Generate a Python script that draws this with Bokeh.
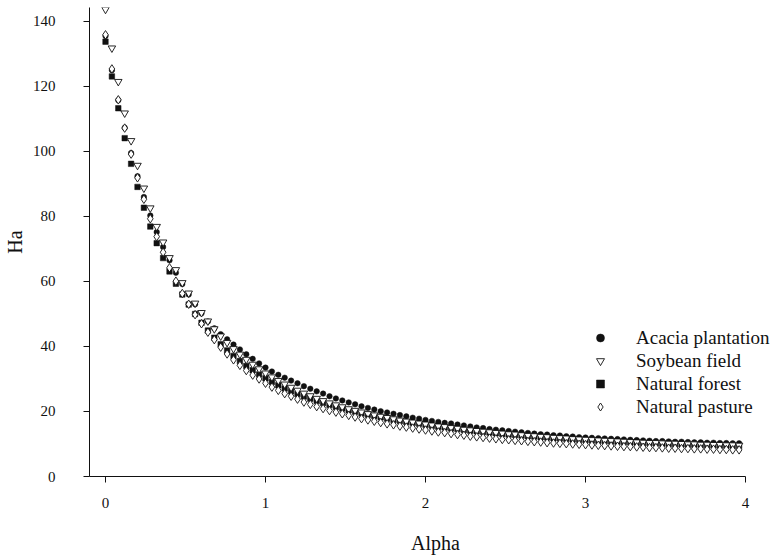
from bokeh.plotting import figure
from bokeh.models import Range1d, Legend, LegendItem, FixedTicker, ColumnDataSource
from bokeh.embed import file_html
from bokeh.resources import INLINE

alpha = [0.00, 0.04, 0.08, 0.12, 0.16, 0.20, 0.24, 0.28, 0.32, 0.36,
         0.40, 0.44, 0.48, 0.52, 0.56, 0.60, 0.64, 0.68, 0.72, 0.76,
         0.80, 0.84, 0.88, 0.92, 0.96, 1.00, 1.04, 1.08, 1.12, 1.16,
         1.20, 1.24, 1.28, 1.32, 1.36, 1.40, 1.44, 1.48, 1.52, 1.56,
         1.60, 1.64, 1.68, 1.72, 1.76, 1.80, 1.84, 1.88, 1.92, 1.96,
         2.00, 2.04, 2.08, 2.12, 2.16, 2.20, 2.24, 2.28, 2.32, 2.36,
         2.40, 2.44, 2.48, 2.52, 2.56, 2.60, 2.64, 2.68, 2.72, 2.76,
         2.80, 2.84, 2.88, 2.92, 2.96, 3.00, 3.04, 3.08, 3.12, 3.16,
         3.20, 3.24, 3.28, 3.32, 3.36, 3.40, 3.44, 3.48, 3.52, 3.56,
         3.60, 3.64, 3.68, 3.72, 3.76, 3.80, 3.84, 3.88, 3.92, 3.96]

acacia = [135.5, 125.0, 115.8, 107.3, 99.5, 92.4, 86.0, 80.3, 75.2, 70.6,
          66.5, 62.7, 59.2, 56.0, 53.0, 50.2, 47.7, 45.6, 43.8, 42.2,
          40.6, 39.1, 37.6, 36.2, 34.8, 33.5, 32.3, 31.3, 30.4, 29.5,
          28.7, 27.8, 27.0, 26.2, 25.5, 24.7, 24.0, 23.4, 22.8, 22.2,
          21.6, 21.1, 20.6, 20.1, 19.7, 19.3, 18.9, 18.5, 18.1, 17.8,
          17.4, 17.1, 16.8, 16.5, 16.3, 16.0, 15.7, 15.4, 15.1, 14.9,
          14.6, 14.4, 14.2, 14.0, 13.8, 13.6, 13.4, 13.2, 13.0, 12.9,
          12.7, 12.6, 12.4, 12.3, 12.1, 12.0, 11.9, 11.8, 11.7, 11.6,
          11.5, 11.4, 11.3, 11.2, 11.1, 11.0, 10.9, 10.9, 10.8, 10.7,
          10.7, 10.6, 10.5, 10.5, 10.4, 10.4, 10.3, 10.3, 10.2, 10.2]

soybean = [143.7, 131.8, 121.5, 111.8, 103.3, 95.7, 88.7, 82.6, 76.9, 72.1,
           67.3, 63.6, 59.6, 56.4, 53.3, 50.4, 47.8, 45.4, 43.2, 41.2,
           39.3, 37.6, 36.0, 34.5, 33.1, 31.8, 30.6, 29.5, 28.4, 27.4,
           26.5, 25.6, 24.8, 24.0, 23.3, 22.6, 22.0, 21.4, 20.8, 20.3,
           19.8, 19.3, 18.9, 18.5, 18.1, 17.7, 17.3, 17.0, 16.7, 16.4,
           16.1, 15.8, 15.5, 15.3, 15.0, 14.8, 14.5, 14.3, 14.1, 13.9,
           13.7, 13.5, 13.3, 13.1, 13.0, 12.8, 12.6, 12.5, 12.3, 12.2,
           12.0, 11.9, 11.8, 11.6, 11.5, 11.4, 11.3, 11.2, 11.1, 11.0,
           10.9, 10.8, 10.7, 10.6, 10.5, 10.4, 10.4, 10.3, 10.2, 10.2,
           10.1, 10.0, 10.0, 9.9, 9.9, 9.8, 9.8, 9.7, 9.7, 9.6]

forest = [133.8, 123.1, 113.3, 104.1, 96.2, 89.1, 82.7, 76.9, 71.8, 67.2,
          63.1, 59.3, 56.0, 52.9, 50.0, 47.3, 44.9, 42.7, 40.7, 38.8,
          37.1, 35.5, 34.0, 32.7, 31.4, 30.2, 29.1, 28.1, 27.1, 26.2,
          25.4, 24.6, 23.9, 23.2, 22.6, 22.0, 21.4, 20.9, 20.4, 19.9,
          19.4, 19.0, 18.6, 18.2, 17.8, 17.4, 17.1, 16.8, 16.5, 16.2,
          15.9, 15.6, 15.3, 15.1, 14.8, 14.6, 14.3, 14.1, 13.9, 13.7,
          13.5, 13.3, 13.1, 12.9, 12.8, 12.6, 12.4, 12.3, 12.1, 12.0,
          11.8, 11.7, 11.6, 11.4, 11.3, 11.2, 11.1, 11.0, 10.9, 10.8,
          10.7, 10.6, 10.5, 10.4, 10.3, 10.3, 10.2, 10.1, 10.0, 10.0,
          9.9, 9.8, 9.8, 9.7, 9.7, 9.6, 9.5, 9.5, 9.4, 9.4]

pasture = [135.9, 125.4, 115.9, 107.2, 99.2, 91.9, 85.3, 79.3, 73.8, 69.0,
           64.2, 60.1, 56.3, 53.0, 49.8, 47.0, 44.4, 42.1, 39.8, 37.7,
           35.9, 34.2, 32.6, 31.2, 30.0, 28.7, 27.5, 26.5, 25.5, 24.7,
           23.8, 22.9, 22.2, 21.5, 20.9, 20.3, 19.8, 19.3, 18.8, 18.3,
           17.8, 17.4, 17.0, 16.6, 16.2, 15.9, 15.5, 15.2, 14.9, 14.6,
           14.3, 14.0, 13.7, 13.5, 13.2, 12.9, 12.7, 12.4, 12.2, 12.0,
           11.8, 11.6, 11.4, 11.3, 11.1, 11.0, 10.8, 10.7, 10.6, 10.4,
           10.3, 10.2, 10.1, 10.0, 9.9, 9.8, 9.7, 9.6, 9.5, 9.4,
           9.3, 9.2, 9.2, 9.1, 9.0, 8.9, 8.9, 8.8, 8.7, 8.7,
           8.6, 8.6, 8.5, 8.5, 8.4, 8.4, 8.3, 8.3, 8.2, 8.2]

series_names = ["Acacia plantation", "Soybean field", "Natural forest", "Natural pasture"]
x_ticks = [0, 1, 2, 3, 4]
y_ticks = [0, 20, 40, 60, 80, 100, 120, 140]

FONT = "Liberation Serif"
INK = "#111111"

src = ColumnDataSource(dict(alpha=alpha, acacia=acacia, soybean=soybean,
                            forest=forest, pasture=pasture))

# frame extends past alpha=4 so the legend text is not clipped;
# the x axis line itself is bounded to [-0.1, 4]
p = figure(frame_width=692, frame_height=469,
           x_range=Range1d(-0.1, 4.225), y_range=Range1d(0, 144.3),
           output_backend="svg", toolbar_location=None,
           min_border_left=87, min_border_top=7, min_border_right=0,
           min_border_bottom=60, background_fill_color="white",
           border_fill_color="white")

p.outline_line_color = None
p.xgrid.visible = False
p.ygrid.visible = False

r_ac = p.scatter("alpha", "acacia", source=src, marker="circle", size=5.5,
                 fill_color=INK, line_color=INK, line_width=0.5)
r_fo = p.scatter("alpha", "forest", source=src, marker="square", size=5.5,
                 fill_color=INK, line_color=INK, line_width=0.5)
r_so = p.scatter("alpha", "soybean", source=src, marker="inverted_triangle", size=7.5,
                 fill_color="white", line_color=INK, line_width=0.9)
r_pa = p.scatter("alpha", "pasture", source=src, marker="diamond", size=8.5,
                 fill_color="white", line_color=INK, line_width=0.9)

for ax, ticks in ((p.xaxis, x_ticks), (p.yaxis, y_ticks)):
    ax.ticker = FixedTicker(ticks=ticks)
    ax.minor_tick_line_color = None
    ax.major_tick_in = 0
    ax.major_tick_out = 6
    ax.axis_line_color = INK
    ax.major_tick_line_color = INK
    ax.major_label_text_font = FONT
    ax.major_label_text_font_size = "15px"
    ax.major_label_text_color = INK
    ax.axis_label_text_font = FONT
    ax.axis_label_text_font_size = "20px"
    ax.axis_label_text_font_style = "normal"
    ax.axis_label_text_color = INK

p.xaxis.bounds = (-0.1, 4.0)
p.xaxis.axis_label = "Alpha"
p.yaxis.axis_label = "Ha"
p.xaxis.major_label_standoff = 15
p.xaxis.axis_label_standoff = 21
p.yaxis.major_label_standoff = 28
p.yaxis.axis_label_standoff = 4

legend = Legend(items=[
    LegendItem(label=series_names[0], renderers=[r_ac]),
    LegendItem(label=series_names[1], renderers=[r_so]),
    LegendItem(label=series_names[2], renderers=[r_fo]),
    LegendItem(label=series_names[3], renderers=[r_pa]),
], location=(501, 58))
legend.border_line_color = None
legend.background_fill_alpha = 0
legend.label_text_font = FONT
legend.label_text_font_size = "19px"
legend.label_text_color = INK
legend.glyph_width = 20
legend.glyph_height = 23
legend.label_height = 23
legend.label_standoff = 26
legend.spacing = 0
legend.padding = 0
legend.margin = 0
p.add_layout(legend)

open("out.html", "w").write(file_html(p, INLINE))
